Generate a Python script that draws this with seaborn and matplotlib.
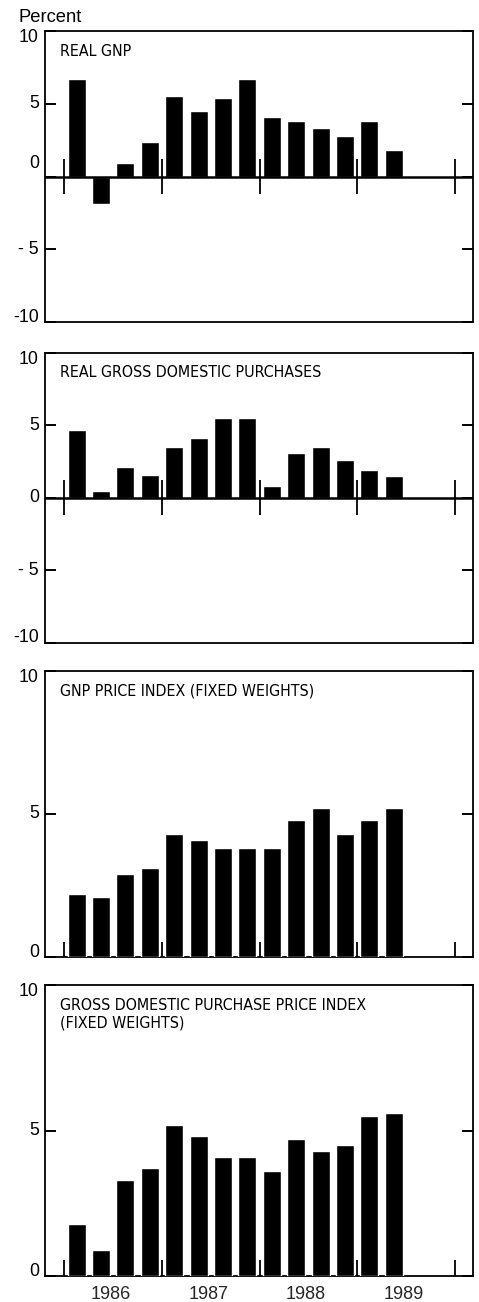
import numpy as np
import pandas as pd
import matplotlib
matplotlib.use("Agg")
import matplotlib.pyplot as plt
import matplotlib.transforms as mtransforms
from matplotlib import font_manager
import seaborn as sns

# ---------------- data ----------------
quarters = [f"{y}Q{q}" for y in (1986, 1987, 1988, 1989) for q in (1, 2, 3, 4)]
years = ["1986", "1987", "1988", "1989"]

real_gnp = [6.7, -1.9, 0.9, 2.4, 5.5, 4.5, 5.4, 6.7, 4.1, 3.8, 3.3, 2.8, 3.8, 1.8]
real_gross_dom_purch = [4.7, 0.5, 2.1, 1.6, 3.5, 4.1, 5.5, 5.5, 0.8, 3.1, 3.5, 2.6, 1.9, 1.5]
gnp_price_index = [2.2, 2.1, 2.9, 3.1, 4.3, 4.1, 3.8, 3.8, 3.8, 4.8, 5.2, 4.3, 4.8, 5.2]
gdp_purch_price_index = [1.8, 0.9, 3.3, 3.7, 5.2, 4.8, 4.1, 4.1, 3.6, 4.7, 4.3, 4.5, 5.5, 5.6]

titles = [
    "REAL GNP",
    "REAL GROSS DOMESTIC PURCHASES",
    "GNP PRICE INDEX (FIXED WEIGHTS)",
    "GROSS DOMESTIC PURCHASE PRICE INDEX\n(FIXED WEIGHTS)",
]
series = [real_gnp, real_gross_dom_purch, gnp_price_index, gdp_purch_price_index]
ylims = [(-10, 10), (-10, 10), (0, 10), (0, 10)]
yticks = [[-10, -5, 0, 5, 10], [-10, -5, 0, 5, 10], [0, 5, 10], [0, 5, 10]]
ytick_labels = [["-10", "- 5", "0", "5", "10"], ["-10", "- 5", "0", "5", "10"],
                ["0", "5", "10"], ["0", "5", "10"]]

# ---------------- style ----------------
sns.set_style("ticks")
plt.rcParams["font.family"] = ["Liberation Sans", "DejaVu Sans"]
names = {f.name for f in font_manager.fontManager.ttflist}
if "Liberation Sans Narrow" in names:
    title_font = dict(family=["Liberation Sans Narrow"], fontstretch="normal", fontsize=12)
else:
    title_font = dict(family=["DejaVu Sans"], fontstretch="condensed", fontsize=11.4)

W, H = 479, 1302
fig = plt.figure(figsize=(W / 100, H / 100), dpi=100)

# panel boxes in pixels (top, bottom)
boxes = [(31, 322), (352.7, 643), (670.7, 957.3), (985, 1276)]
left_px, right_px = 44.5, 473

boundaries = np.arange(-0.5, len(quarters) + 0.5, 4)

for i, (vals, title, ylim, ticks, tlabels) in enumerate(
        zip(series, titles, ylims, yticks, ytick_labels)):
    top, bot = boxes[i]
    ax = fig.add_axes([left_px / W, 1 - bot / H, (right_px - left_px) / W, (bot - top) / H])
    df = pd.DataFrame({"quarter": quarters[:len(vals)], "value": vals})
    sns.barplot(data=df, x="quarter", y="value", order=quarters, color="black",
                saturation=1, width=0.74, errorbar=None, ax=ax, zorder=3)
    ax.set_xlim(-1.32, 16.25)
    ax.set_ylim(*ylim)
    ax.set_xlabel("")
    ax.set_ylabel("")

    for s in ax.spines.values():
        s.set_visible(True)
        s.set_linewidth(1.3)
        s.set_color("black")

    ax.set_yticks(ticks)
    ax.set_yticklabels([])
    ax.tick_params(axis="y", direction="in", length=8, width=1.4, left=True, right=True,
                   labelleft=False, labelright=False, color="black")

    # y tick labels as text, nudged like the original
    for t, lab in zip(ticks, tlabels):
        dy = 0
        if t == ylim[1]:
            dy = -6.5
        elif t == ylim[0]:
            dy = 5
        if i == 0 and t == 0:
            dy = 13
        tr = (mtransforms.blended_transform_factory(ax.transAxes, ax.transData)
              + mtransforms.ScaledTranslation(-5.5 / 100, dy / 100, fig.dpi_scale_trans))
        ax.text(0, t, lab, transform=tr, ha="right", va="center", fontsize=12.8, color="black")

    if ylim[0] < 0:
        ax.axhline(0, color="black", lw=1.8, zorder=4)
        ax.vlines(boundaries, -1.2, 1.2, color="black", lw=1.3, zorder=4)
    else:
        ax.vlines(boundaries, 0, 0.55, color="black", lw=1.3, zorder=4)

    if i == 3:
        mids = boundaries[:-1] + 2 - 0.1
        ax.set_xticks(mids)
        ax.set_xticklabels(years, fontsize=13)
        ax.tick_params(axis="x", length=0, pad=7)
    else:
        ax.set_xticks([])

    ax.text(0.037, 1 - 12.5 / (bot - top), title, transform=ax.transAxes, ha="left",
            va="top", linespacing=1.28, color="black", **title_font)

fig.text(18 / W, 1 - 21.5 / H, "Percent", fontsize=13.2, ha="left", va="baseline", color="black")

fig.savefig("out.png", dpi=100)
